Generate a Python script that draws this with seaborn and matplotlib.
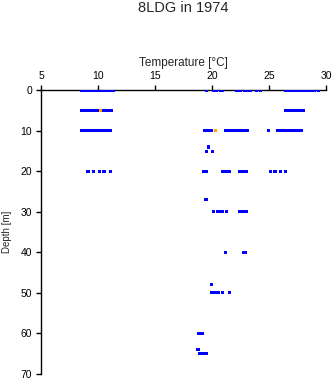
import matplotlib
matplotlib.use("Agg")
import matplotlib.pyplot as plt
import seaborn as sns
import pandas as pd

# ---- data (temperature in °C at each sampling depth in m) ----
temp_0m = [8.5, 8.7, 8.9, 9.1, 9.3, 9.5, 9.7, 9.9, 10.1, 10.3, 10.5, 10.7, 10.9, 11.1, 11.3,
           19.5, 20.15, 20.35, 20.7, 20.9,
           22.1, 22.3, 22.5, 22.8, 23.0, 23.2, 23.35, 23.85, 24.2,
           26.4, 26.6, 26.8, 27.0, 27.2, 27.4, 27.6, 27.8, 28.0, 28.2, 28.4, 28.6, 28.75, 29.0, 29.3]
temp_5m = [8.5, 8.7, 9.0, 9.2, 9.35, 9.6, 9.8, 10.0, 10.4, 10.6, 10.8, 11.0, 11.15,
           26.4, 26.6, 26.8, 27.0, 27.2, 27.4, 27.6, 27.8, 28.0]
temp_10m = [8.5, 8.7, 8.9, 9.1, 9.3, 9.5, 9.7, 9.9, 10.1, 10.3, 10.5, 10.7, 10.9, 11.1,
            19.3, 19.45, 19.7, 19.9,
            21.2, 21.4, 21.6, 21.9, 22.1, 22.3, 22.5, 22.7, 22.9, 23.1, 24.95,
            25.75, 26.0, 26.2, 26.4, 26.6, 26.8, 27.0, 27.2, 27.4, 27.6, 27.85]
temp_14m = [19.7]
temp_15m = [19.5, 20.0]
temp_20m = [9.1, 9.6, 10.1, 10.5, 11.05, 19.2, 19.45, 20.9, 21.1, 21.3, 21.5,
            22.4, 22.6, 22.8, 23.0, 25.1, 25.5, 26.0, 26.4]
temp_27m = [19.45]
temp_30m = [20.1, 20.5, 20.7, 20.9, 21.25, 22.4, 22.6, 22.8, 23.0]
temp_40m = [21.15, 22.7, 22.9]
temp_48m = [19.9]
temp_50m = [19.9, 20.1, 20.3, 20.5, 20.9, 21.5]
temp_60m = [18.8, 19.0, 19.15]
temp_64m = [18.75]
temp_65m = [18.9, 19.1, 19.3, 19.45]

# flagged (orange) observations
flag_depths = [5, 10]
flag_temps = [10.2, 20.3]

x_ticks = [5, 10, 15, 20, 25, 30]
y_ticks = [0, 10, 20, 30, 40, 50, 60, 70]

series = {0: temp_0m, 5: temp_5m, 10: temp_10m, 14: temp_14m, 15: temp_15m,
          20: temp_20m, 27: temp_27m, 30: temp_30m, 40: temp_40m, 48: temp_48m,
          50: temp_50m, 60: temp_60m, 64: temp_64m, 65: temp_65m}
rows = []
for d, temps in series.items():
    for t in temps:
        rows.append({"depth": d, "temperature": t, "flag": "good"})
for d, t in zip(flag_depths, flag_temps):
    rows.append({"depth": d, "temperature": t, "flag": "flagged"})
df = pd.DataFrame(rows)

sns.set_theme(style="ticks")
plt.rcParams["font.family"] = ["Liberation Sans", "DejaVu Sans"]

W, H = 335, 384
fig = plt.figure(figsize=(W / 100, H / 100), dpi=100)
ax = fig.add_axes([41.3 / W, 1 - 374 / H, (326.3 - 41.3) / W, (374 - 90.3) / H])

sns.scatterplot(data=df, x="temperature", y="depth", hue="flag",
                palette={"good": "#0000ff", "flagged": "#ffa500"},
                marker="s", s=5, linewidth=0, legend=False, ax=ax, zorder=3)

ax.set_xlim(5, 30)
ax.set_ylim(70, 0)
ax.set_xticks(x_ticks)
ax.set_yticks(y_ticks)
ax.xaxis.set_ticks_position("top")
ax.xaxis.set_label_position("top")
for side in ["right", "bottom"]:
    ax.spines[side].set_visible(False)
for side in ["left", "top"]:
    ax.spines[side].set_linewidth(1.0)
    ax.spines[side].set_color("black")
ax.tick_params(direction="out", length=3.6, width=1.0, colors="black",
               labelsize=7.5, pad=3)
ax.set_xlabel("Temperature [°C]", fontsize=8.5, labelpad=4)
ax.set_ylabel("Depth [m]", fontsize=7, labelpad=6)

fig.text(183.7 / W, 1 - 7.5 / H, "8LDG in 1974", ha="center", va="center", fontsize=10.5)

fig.savefig("out.png", dpi=100)
